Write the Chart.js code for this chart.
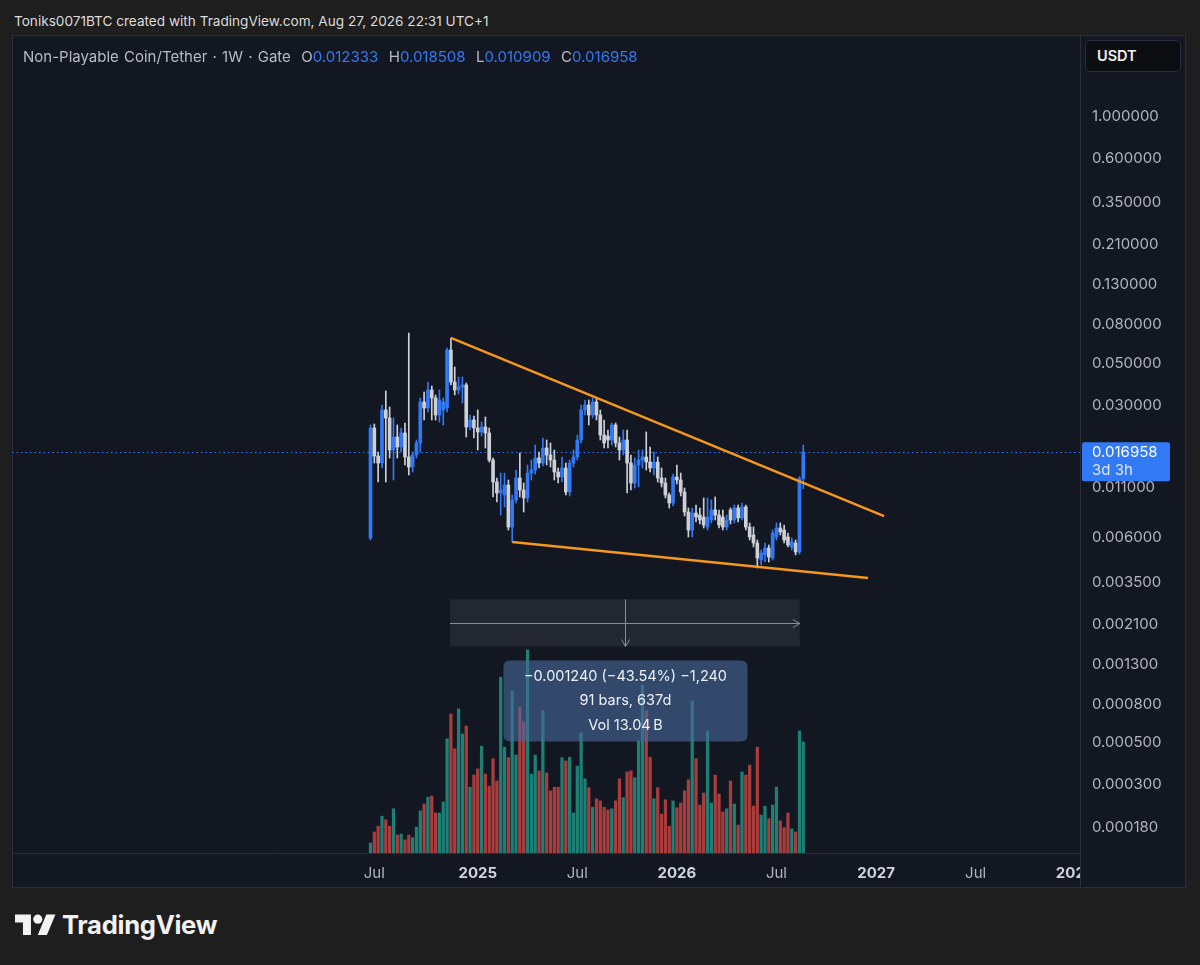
<!DOCTYPE html>
<html>
<head>
<meta charset="utf-8">
<script src="https://cdn.jsdelivr.net/npm/chart.js@4.4.1/dist/chart.umd.min.js"></script>
<style>
  html, body { margin: 0; padding: 0; }
  body {
    width: 1200px; height: 965px; position: relative; overflow: hidden;
    background: #1e1e1e; font-family: Inter, "Noto Sans", sans-serif;
  }
  #header { position: absolute; left: 14px; top: 13px; font-size: 13.6px; color: #dcdcdc; white-space: nowrap; }
  #frame {
    position: absolute; left: 12px; top: 35px; width: 1174px; height: 853px;
    background: #131722; border: 1px solid #2a2e39; box-sizing: border-box;
  }
  #wrap { position: absolute; left: 12px; top: 35px; width: 1174px; height: 853px; }
  #legend { position: absolute; left: 23px; top: 47px; font-size: 15px; color: #b8bbc3; white-space: pre; word-spacing: 1px; }
  #legend .v { color: #3179f5; }
  #usdt {
    position: absolute; left: 1085px; top: 40px; width: 96px; height: 32px; box-sizing: border-box;
    background: #0c0d10; border: 1px solid #2a2e39; border-radius: 5px;
    color: #f0f0f0; font-size: 14.5px; font-weight: 600; line-height: 30px; padding-left: 11px;
  }
  #logo { position: absolute; left: 15px; top: 910px; }
  #brand { position: absolute; left: 62px; top: 909px; font-size: 25.6px; font-weight: 700; color: #f2f2f2; letter-spacing: -0.3px; }
</style>
</head>
<body>
<div id="header">Toniks0071BTC created with TradingView.com, Aug 27, 2026 22:31 UTC+1</div>
<div id="frame"></div>
<div id="wrap"><canvas id="chart" width="1174" height="853"></canvas></div>
<div id="legend">Non-Playable Coin/Tether · 1W · Gate  O<span class="v">0.012333</span>  H<span class="v">0.018508</span>  L<span class="v">0.010909</span>  C<span class="v">0.016958</span></div>
<div id="usdt">USDT</div>
<svg id="logo" width="41" height="32" viewBox="0 0 36 28"><path fill="#f2f2f2" d="M14 22H7V11H0V4h14v18zM28 22h-8l7.5-18h8L28 22z"/><circle fill="#f2f2f2" cx="20" cy="8" r="4"/></svg>
<div id="brand">TradingView</div>
<script>
// weekly candles, index 0 = week of 24 Jun 2024
const opens = [0.00599, 0.02276, 0.01620, 0.01488, 0.02830, 0.02569, 0.01742, 0.02040, 0.01807, 0.02142,
  0.01601, 0.01418, 0.01640, 0.01897, 0.03118, 0.02900, 0.03607, 0.03274, 0.02664, 0.02830,
  0.02900, 0.05857, 0.03974, 0.03607, 0.03740, 0.03832, 0.02303, 0.02507, 0.02276, 0.02168,
  0.02303, 0.02142, 0.01543, 0.01182, 0.01035, 0.01010, 0.01140, 0.006849, 0.009503, 0.01241,
  0.01073, 0.009736, 0.01318, 0.01367, 0.01581, 0.01488, 0.01785, 0.01640, 0.01543, 0.01334,
  0.01256, 0.01401, 0.01047, 0.01488, 0.01601, 0.01967, 0.02830, 0.03007, 0.02664, 0.03118,
  0.02664, 0.02090, 0.02065, 0.01967, 0.02360, 0.01897, 0.01742, 0.01967, 0.01488, 0.01168,
  0.01453, 0.01543, 0.01601, 0.01506, 0.01401, 0.01506, 0.01241, 0.01168, 0.01010, 0.009164,
  0.01256, 0.01211, 0.01047, 0.008215, 0.006604, 0.008116, 0.007922, 0.007732, 0.006849, 0.007456,
  0.008417, 0.007922, 0.007732, 0.006849, 0.008417, 0.007456, 0.008625, 0.007639, 0.008730, 0.006849,
  0.006216, 0.005641, 0.004590, 0.004877, 0.005309, 0.004703, 0.006067, 0.006766, 0.006604, 0.006067,
  0.005374, 0.005641, 0.005058, 0.012333];
const highs = [0.02360, 0.02388, 0.01700, 0.03007, 0.03564, 0.02935, 0.02569, 0.02360, 0.02276, 0.02417,
  0.07197, 0.01700, 0.01967, 0.03274, 0.03521, 0.03974, 0.03786, 0.03395, 0.03607, 0.03274,
  0.06002, 0.06776, 0.04766, 0.04221, 0.04221, 0.03927, 0.02664, 0.02632, 0.02830, 0.02447,
  0.02600, 0.02276, 0.01581, 0.01241, 0.01318, 0.01318, 0.01211, 0.01010, 0.01367, 0.01680,
  0.01168, 0.01453, 0.01543, 0.01851, 0.01700, 0.02015, 0.01967, 0.01897, 0.01742, 0.01401,
  0.01601, 0.01488, 0.01543, 0.01742, 0.02090, 0.03007, 0.03195, 0.03195, 0.03274, 0.03234,
  0.02830, 0.02507, 0.02221, 0.02417, 0.02417, 0.02040, 0.02221, 0.02221, 0.01640, 0.01581,
  0.01742, 0.01742, 0.02168, 0.01807, 0.01700, 0.01601, 0.01401, 0.01241, 0.01035, 0.01302,
  0.01453, 0.01318, 0.01099, 0.008625, 0.008625, 0.008944, 0.008625, 0.009736, 0.009736, 0.009503,
  0.009858, 0.008417, 0.008417, 0.007922, 0.008625, 0.008944, 0.008944, 0.009164, 0.008944, 0.007190,
  0.006849, 0.005850, 0.005182, 0.005641, 0.005506, 0.006604, 0.007190, 0.007190, 0.007017, 0.006368,
  0.005994, 0.005850, 0.01262, 0.018508];
const lows = [0.005850, 0.01488, 0.01182, 0.01401, 0.01182, 0.01581, 0.01211, 0.01581, 0.01700, 0.01453,
  0.01287, 0.01334, 0.01581, 0.01700, 0.02507, 0.02762, 0.02507, 0.02507, 0.02447, 0.02360,
  0.02762, 0.03832, 0.03395, 0.03436, 0.03081, 0.02040, 0.02221, 0.02015, 0.01742, 0.02065,
  0.01785, 0.01506, 0.009858, 0.009275, 0.007922, 0.008730, 0.006604, 0.005710, 0.009164, 0.009858,
  0.008215, 0.009275, 0.01211, 0.01302, 0.01401, 0.01435, 0.01453, 0.01418, 0.01211, 0.01168,
  0.01182, 0.01010, 0.009978, 0.01418, 0.01543, 0.01897, 0.02664, 0.02360, 0.02569, 0.02507,
  0.01967, 0.01785, 0.01785, 0.01851, 0.01807, 0.01543, 0.01640, 0.01035, 0.01073, 0.01099,
  0.01113, 0.01401, 0.01367, 0.01334, 0.01287, 0.01182, 0.01113, 0.009736, 0.008625, 0.008836,
  0.01154, 0.009978, 0.007827, 0.006067, 0.006067, 0.007277, 0.007103, 0.006766, 0.006604, 0.007190,
  0.007456, 0.006766, 0.006604, 0.006604, 0.007103, 0.007190, 0.007277, 0.007456, 0.006604, 0.005850,
  0.005374, 0.004166, 0.004320, 0.004480, 0.004480, 0.004590, 0.005850, 0.006216, 0.005641, 0.005374,
  0.005182, 0.004877, 0.004937, 0.010909];
const closes = [0.02276, 0.01620, 0.01488, 0.02830, 0.02569, 0.01742, 0.02040, 0.01807, 0.02142, 0.01601,
  0.01418, 0.01640, 0.01897, 0.03118, 0.02900, 0.03607, 0.03274, 0.02664, 0.03195, 0.03118,
  0.05857, 0.03974, 0.03607, 0.03740, 0.03832, 0.02303, 0.02507, 0.02276, 0.02168, 0.02303,
  0.02142, 0.01543, 0.01182, 0.01035, 0.01073, 0.01140, 0.006849, 0.009503, 0.01241, 0.01073,
  0.009736, 0.01318, 0.01367, 0.01581, 0.01488, 0.01785, 0.01640, 0.01543, 0.01334, 0.01256,
  0.01401, 0.01047, 0.01488, 0.01601, 0.01967, 0.02830, 0.03007, 0.02664, 0.03118, 0.02664,
  0.02090, 0.01897, 0.01967, 0.02360, 0.01897, 0.01742, 0.01967, 0.01488, 0.01168, 0.01453,
  0.01543, 0.01601, 0.01506, 0.01401, 0.01506, 0.01241, 0.01168, 0.01010, 0.009164, 0.01256,
  0.01211, 0.01047, 0.008215, 0.006604, 0.008116, 0.007732, 0.007456, 0.007017, 0.007732, 0.008417,
  0.007922, 0.007017, 0.006849, 0.007456, 0.007456, 0.008625, 0.007639, 0.008730, 0.006849, 0.006067,
  0.005641, 0.004703, 0.004997, 0.005309, 0.004760, 0.006368, 0.006766, 0.006446, 0.005850, 0.005506,
  0.005710, 0.005058, 0.01233, 0.016958];
// weekly volume, millions of NPC
const volumes = [19, 40, 51, 70, 63, 51, 84, 34, 36, 25,
  34, 29, 49, 80, 93, 106, 108, 76, 76, 97,
  217, 264, 198, 274, 226, 241, 125, 148, 160, 203,
  150, 127, 179, 137, 334, 201, 181, 308, 186, 277,
  249, 386, 150, 186, 156, 270, 152, 118, 125, 125,
  181, 175, 182, 76, 165, 228, 141, 124, 87, 103,
  99, 87, 82, 84, 99, 141, 105, 154, 156, 143,
  213, 319, 270, 182, 103, 124, 74, 101, 51, 99,
  86, 95, 118, 139, 289, 179, 91, 114, 232, 95,
  148, 112, 78, 84, 137, 93, 53, 154, 148, 167,
  89, 201, 72, 89, 65, 91, 125, 61, 48, 76,
  46, 40, 232, 211];

// trend lines: [week index, price]
const upperTrend = [[21, 0.0678], [134.1, 0.00782]];
const lowerTrend = [[37, 0.00571], [129.9, 0.00369]];

// axis ticks
const priceTicks = [1.0, 0.6, 0.35, 0.21, 0.13, 0.08, 0.05, 0.03, 0.011, 0.006, 0.0035,
  0.0021, 0.0013, 0.0008, 0.0005, 0.0003, 0.00018];
const timeTickWeeks = [1, 28, 54, 80, 106, 132, 158, 184];
const timeTickLabels = ["Jul", "2025", "Jul", "2026", "Jul", "2027", "Jul", "2028"];

// price range measurement (bars 21 -> 112)
const measureWeeks = [20.75, 112.1];
const measurePrices = [0.002848, 0.001608];
const measureText = ["\u22120.001240 (\u221243.54%) \u22121,240", "91 bars, 637d", "Vol 13.04\u2009B"];
const countdown = "3d 3h";

const UP = "#3179f5";
const DOWN = "#cdd0d7";
const PANE = "#131722";
const LINE = "#2a2e39";

const weeks = closes.map((c, i) => i);
const isUp = (i) => closes[i] >= opens[i];
const lastClose = closes[closes.length - 1];

Chart.defaults.font.family = "Inter, 'Noto Sans', sans-serif";

function noPadding(s) {
  s.paddingTop = 0;
  s.paddingBottom = 0;
  s.paddingLeft = 0;
  s.paddingRight = 0;
}

const overlay = {
  id: "overlay",
  beforeDatasetsDraw(chart) {
    const { ctx, chartArea, scales } = chart;
    const y = Math.round(scales.y.getPixelForValue(lastClose)) + 0.5;
    ctx.save();
    ctx.strokeStyle = UP;
    ctx.lineWidth = 1;
    ctx.setLineDash([1.5, 3]);
    ctx.beginPath();
    ctx.moveTo(chartArea.left, y);
    ctx.lineTo(chartArea.right, y);
    ctx.stroke();
    ctx.restore();
  },
  afterDatasetsDraw(chart) {
    const { ctx, scales } = chart;
    const x1 = scales.x.getPixelForValue(measureWeeks[0]);
    const x2 = scales.x.getPixelForValue(measureWeeks[1]);
    const y1 = scales.y.getPixelForValue(measurePrices[0]);
    const y2 = scales.y.getPixelForValue(measurePrices[1]);
    const xm = Math.round((x1 + x2) / 2) + 0.5;
    const ym = Math.round((y1 + y2) / 2) + 0.5;
    ctx.save();
    ctx.fillStyle = "rgba(150,155,170,0.12)";
    ctx.fillRect(x1, y1, x2 - x1, y2 - y1);
    ctx.strokeStyle = "#8a8d96";
    ctx.lineWidth = 1;
    ctx.beginPath();
    ctx.moveTo(x1, ym); ctx.lineTo(x2, ym);
    ctx.moveTo(x2 - 7, ym - 4); ctx.lineTo(x2, ym); ctx.lineTo(x2 - 7, ym + 4);
    ctx.moveTo(xm, y1); ctx.lineTo(xm, y2);
    ctx.moveTo(xm - 4, y2 - 7); ctx.lineTo(xm, y2); ctx.lineTo(xm + 4, y2 - 7);
    ctx.stroke();

    const bw = 244, bh = 81;
    const bx = xm - bw / 2, by = y2 + 14;
    ctx.fillStyle = "rgba(74,106,158,0.6)";
    ctx.beginPath();
    ctx.roundRect(bx, by, bw, bh, 6);
    ctx.fill();
    ctx.fillStyle = "#eef1f6";
    ctx.font = "14.5px Inter, 'Noto Sans', sans-serif";
    ctx.textAlign = "center";
    ctx.textBaseline = "middle";
    measureText.forEach((t, i) => ctx.fillText(t, xm, by + 16 + i * 24.5));
    ctx.restore();
  },
  afterDraw(chart) {
    const { ctx, chartArea, scales, width, height } = chart;
    ctx.save();
    // corner under the price scale hides the clipped time label
    ctx.fillStyle = PANE;
    ctx.fillRect(chartArea.right + 1, chartArea.bottom + 1, width - chartArea.right - 2, height - chartArea.bottom - 2);
    ctx.fillStyle = LINE;
    ctx.fillRect(chartArea.right, chartArea.bottom, 1, height - chartArea.bottom);

    const y = scales.y.getPixelForValue(lastClose);
    ctx.fillStyle = UP;
    ctx.beginPath();
    ctx.roundRect(chartArea.right + 2, y - 10, 88, 39, 2);
    ctx.fill();
    ctx.fillStyle = "#ffffff";
    ctx.font = "15px Inter, 'Noto Sans', sans-serif";
    ctx.textAlign = "left";
    ctx.textBaseline = "middle";
    ctx.fillText(lastClose.toFixed(6), chartArea.right + 12, y + 0.5);
    ctx.fillStyle = "#dbe6fd";
    ctx.fillText(countdown, chartArea.right + 12, y + 18.5);
    ctx.restore();
  }
};

new Chart(document.getElementById("chart"), {
  type: "bar",
  data: {
    datasets: [
      {
        type: "line",
        data: upperTrend.map(p => ({ x: p[0], y: p[1] })),
        borderColor: "#f7981d",
        borderWidth: 2.5,
        pointRadius: 0,
        order: 1
      },
      {
        type: "line",
        data: lowerTrend.map(p => ({ x: p[0], y: p[1] })),
        borderColor: "#f7981d",
        borderWidth: 2.5,
        pointRadius: 0,
        order: 1
      },
      {
        data: weeks.map(i => ({ x: i, y: [opens[i], closes[i]] })),
        backgroundColor: weeks.map(i => isUp(i) ? UP : DOWN),
        barThickness: 3,
        grouped: false,
        order: 2
      },
      {
        data: weeks.map(i => ({ x: i, y: [lows[i], highs[i]] })),
        backgroundColor: weeks.map(i => isUp(i) ? UP : DOWN),
        barThickness: 1,
        grouped: false,
        order: 3
      },
      {
        data: weeks.map(i => ({ x: i, y: volumes[i] })),
        backgroundColor: weeks.map(i => isUp(i) ? "rgba(30,140,128,0.9)" : "rgba(196,68,66,0.85)"),
        barThickness: 2.6,
        grouped: false,
        yAxisID: "yVol",
        order: 4
      }
    ]
  },
  options: {
    responsive: false,
    animation: false,
    events: [],
    layout: { padding: 0, autoPadding: false },
    plugins: { legend: { display: false }, tooltip: { enabled: false } },
    scales: {
      x: {
        type: "linear",
        min: -93.6,
        max: 185.25,
        bounds: "data",
        offset: false,
        grid: { display: false, drawTicks: false },
        border: { color: LINE },
        afterFit: (s) => { s.height = 35; noPadding(s); },
        afterBuildTicks: (s) => { s.ticks = timeTickWeeks.map(v => ({ value: v })); },
        ticks: {
          autoSkip: false,
          maxRotation: 0,
          padding: 11,
          color: (c) => c.index % 2 ? "#d1d4dc" : "#b2b5be",
          font: (c) => ({ size: 15, weight: c.index % 2 ? "700" : "400" }),
          callback: (v, i) => timeTickLabels[i]
        }
      },
      y: {
        type: "logarithmic",
        position: "right",
        min: 0.0001315,
        max: 2.67,
        bounds: "data",
        grid: { display: false, drawTicks: false },
        border: { color: LINE },
        afterFit: (s) => { s.width = 106; noPadding(s); },
        afterBuildTicks: (s) => { s.ticks = priceTicks.map(v => ({ value: v })); },
        ticks: {
          autoSkip: false,
          padding: 12,
          color: "#b2b5be",
          font: { size: 15 },
          callback: (v) => Number(v).toFixed(6)
        }
      },
      yVol: {
        type: "linear",
        display: false,
        min: 0,
        max: 1554
      }
    }
  },
  plugins: [overlay]
});
</script>
</body>
</html>
